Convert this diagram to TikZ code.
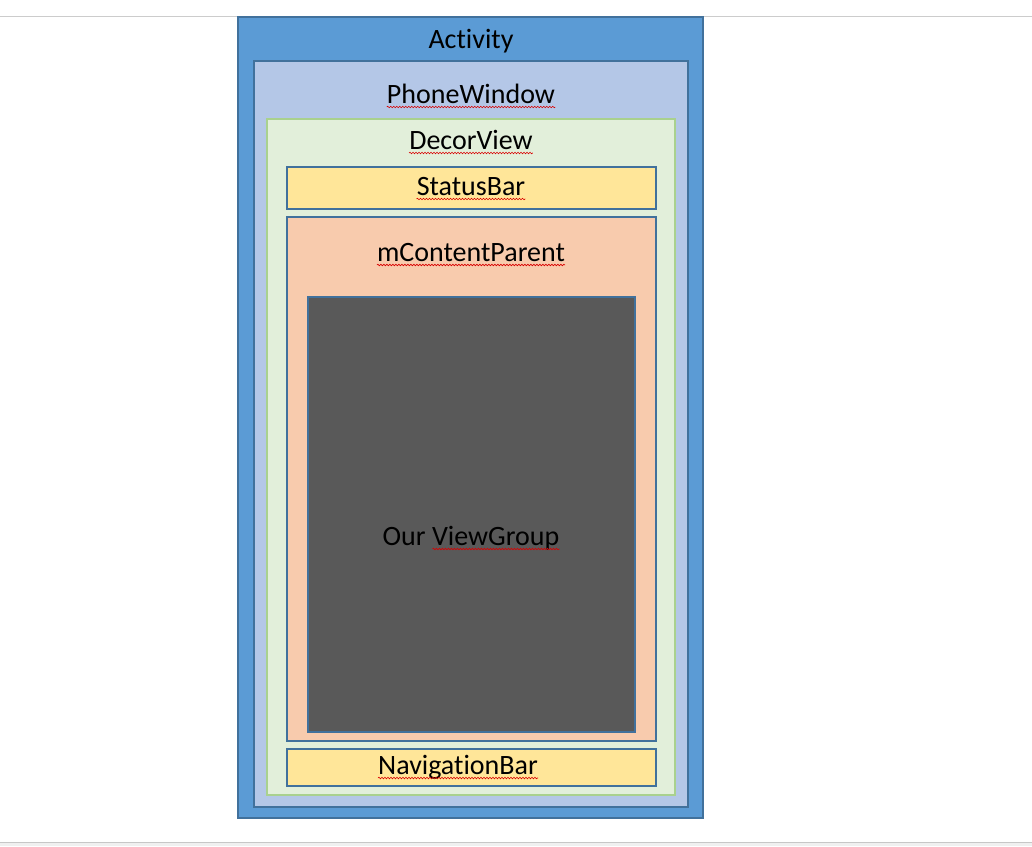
\documentclass[tikz,border=0pt]{standalone}
\usepackage{fontspec}
\setmainfont[Ligatures=NoCommon]{Carlito}
\usetikzlibrary{decorations.pathmorphing}
\definecolor{actblue}{HTML}{5B9BD5}
\definecolor{edgeblue}{HTML}{41719C}
\definecolor{winblue}{HTML}{B4C7E7}
\definecolor{decorgreen}{HTML}{E2EFDA}
\definecolor{decoredge}{HTML}{A9D18E}
\definecolor{baryellow}{HTML}{FFE699}
\definecolor{parentorange}{HTML}{F8CBAD}
\definecolor{viewgrey}{HTML}{595959}
\tikzstyle{spell} = [red!85!black, line width=0.6pt, decorate, decoration={snake, amplitude=0.8pt, segment length=3pt}]

\begin{document}
\begin{tikzpicture}
        [
            x=1pt, y=-1pt,
            box/.style={rectangle, draw=edgeblue, line width=2pt, inner sep=0pt, anchor=north west},
            txt/.style={font=\fontsize{28}{32}\selectfont, anchor=base, inner sep=0pt},
        ]

    \fill[white] (0,0) rectangle (1032,846);
    \useasboundingbox (0,0) rectangle (1032,846);
    \draw[black!20] (0,16) -- (1032,16);
    \fill[black!6] (0,842) rectangle (1032,846);
    \draw[black!22] (0,842) -- (1032,842);

    % nested boxes
    \node[box, fill=actblue, minimum width=465pt, minimum height=801pt] (activity) at (237,16) {};
    \node[box, fill=winblue, minimum width=434pt, minimum height=746pt] (window) at (253,60) {};
    \node[box, fill=decorgreen, draw=decoredge, line width=1.5pt, minimum width=408pt, minimum height=676pt] (decor) at (266,118) {};
    \node[box, fill=baryellow, minimum width=369pt, minimum height=42pt] (statusbar) at (286,166) {};
    \node[box, fill=parentorange, minimum width=369pt, minimum height=524pt] (parent) at (286,216) {};
    \node[box, fill=viewgrey, minimum width=327pt, minimum height=435pt] (viewgroup) at (307,296) {};
    \node[box, fill=baryellow, minimum width=369pt, minimum height=37pt] (navbar) at (286,748) {};

    % captions
    \node[txt] (activity-t) at (471,48) {Activity};
    \node[txt] (window-t) at (471,103) {PhoneWindow};
    \node[txt] (decor-t) at (471,149) {DecorView};
    \node[txt] (statusbar-t) at (471,195) {StatusBar};
    \node[txt] (parent-t) at (471,261) {mContentParent};
    \node[txt] (viewgroup-t) at (471,545) {Our ViewGroup};
    \node[txt] (navbar-t) at (458,774) {NavigationBar};

    \foreach \t in {window-t,decor-t,statusbar-t,parent-t,navbar-t}
        \draw[spell] ([yshift=-4pt]\t.base west) -- ([yshift=-4pt]\t.base east);
    \draw[spell] ([xshift=50pt,yshift=-4pt]viewgroup-t.base west) -- ([yshift=-4pt]viewgroup-t.base east);
\end{tikzpicture}
\end{document}
